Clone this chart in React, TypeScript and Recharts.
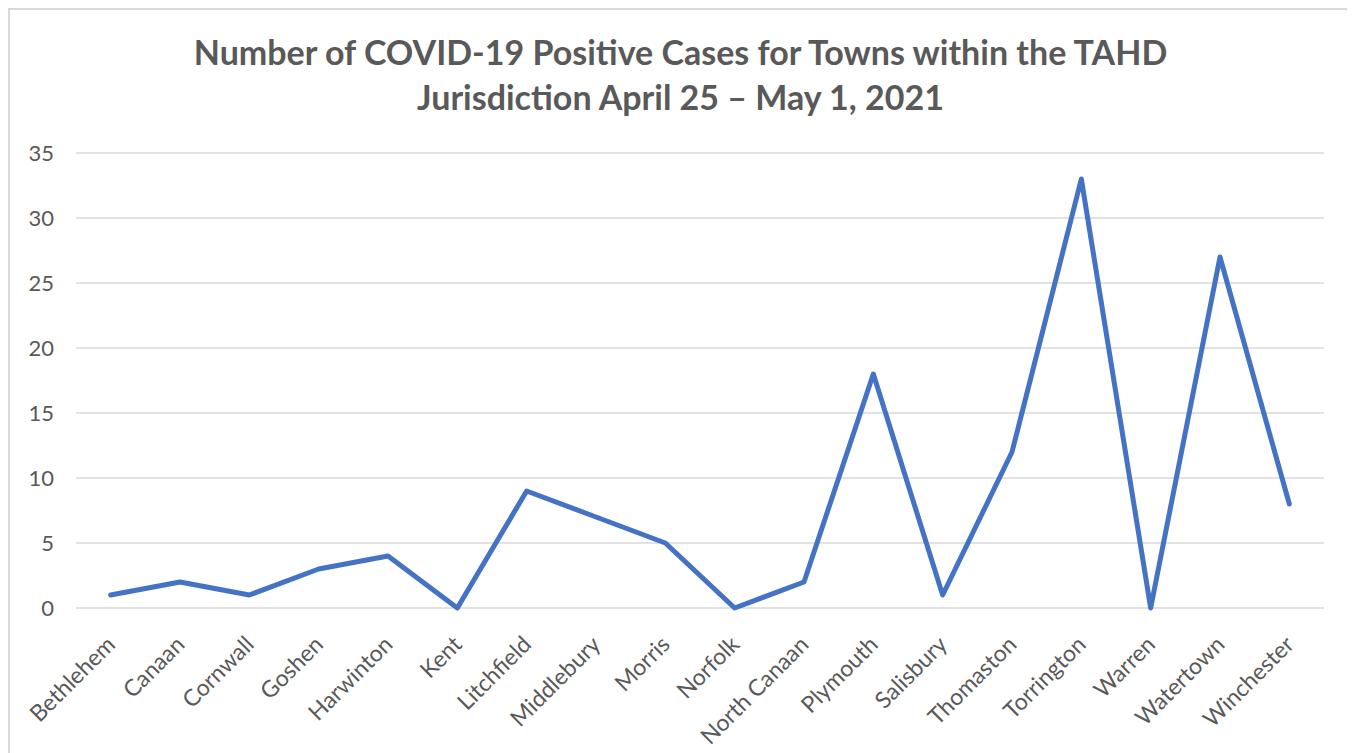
import { CartesianGrid, Line, LineChart, XAxis, YAxis } from 'recharts'

const towns = [
  'Bethlehem',
  'Canaan',
  'Cornwall',
  'Goshen',
  'Harwinton',
  'Kent',
  'Litchfield',
  'Middlebury',
  'Morris',
  'Norfolk',
  'North Canaan',
  'Plymouth',
  'Salisbury',
  'Thomaston',
  'Torrington',
  'Warren',
  'Watertown',
  'Winchester',
]
const cases = [1, 2, 1, 3, 4, 0, 9, 7, 5, 0, 2, 18, 1, 12, 33, 0, 27, 8]
const yTicks = [0, 5, 10, 15, 20, 25, 30, 35]
const titleLines = [
  'Number of COVID-19 Positive Cases for Towns within the TAHD',
  'Jurisdiction April 25 – May 1, 2021',
]

const rows = towns.map((town, i) => ({ town, cases: cases[i] }))

const FONT = 'Lato, "Open Sans", sans-serif'
const TEXT = '#595959'

function TownTick({ x, y, payload }: { x?: number; y?: number; payload?: { value: string } }) {
  const px = (x ?? 0) + 6
  const py = (y ?? 0) + 30
  return (
    <text
      x={px}
      y={py}
      textAnchor="end"
      transform={`rotate(-45, ${px}, ${py})`}
      fill={TEXT}
      fontSize={23}
      fontFamily={FONT}
    >
      {payload?.value}
    </text>
  )
}

export default function App() {
  return (
    <div
      style={{
        position: 'relative',
        width: 1341,
        height: 760,
        border: '2px solid #d9d9d9',
        background: '#fff',
        fontFamily: FONT,
      }}
    >
      <div
        style={{
          position: 'absolute',
          top: 19,
          left: 0,
          width: '100%',
          textAlign: 'center',
          color: TEXT,
          fontWeight: 700,
          fontSize: 34,
          lineHeight: '45px',
        }}
      >
        {titleLines.map((line) => (
          <div key={line}>{line}</div>
        ))}
      </div>
      <LineChart width={1341} height={760} data={rows} margin={{ top: 143, right: 27, bottom: 0, left: 0 }}>
        <CartesianGrid vertical={false} stroke="#d9d9d9" strokeWidth={1.5} />
        <XAxis
          dataKey="town"
          interval={0}
          height={162}
          axisLine={false}
          tickLine={false}
          padding={{ left: 34.67, right: 34.67 }}
          tick={<TownTick />}
        />
        <YAxis
          domain={[0, 35]}
          ticks={yTicks}
          width={66}
          axisLine={false}
          tickLine={false}
          tickSize={0}
          tickMargin={22}
          tick={{ fill: TEXT, fontSize: 22, fontFamily: FONT }}
        />
        <Line
          type="linear"
          dataKey="cases"
          stroke="#4472C4"
          strokeWidth={5}
          strokeLinejoin="round"
          strokeLinecap="round"
          dot={false}
          activeDot={false}
          isAnimationActive={false}
        />
      </LineChart>
    </div>
  )
}
